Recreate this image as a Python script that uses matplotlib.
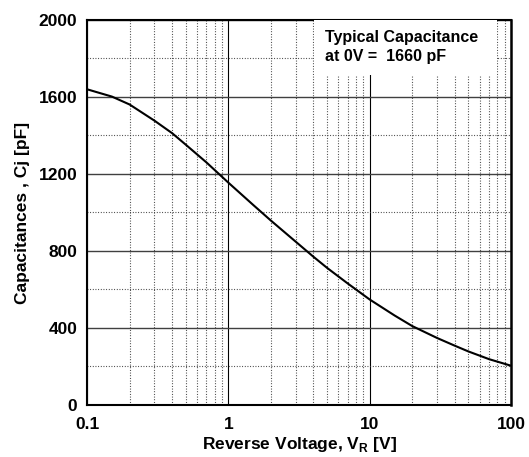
import matplotlib
matplotlib.use("Agg")
import matplotlib.pyplot as plt
from matplotlib.patches import Rectangle
from matplotlib.ticker import FixedLocator, NullFormatter, LogLocator

plt.rcParams['font.family'] = ['Liberation Sans', 'DejaVu Sans']
plt.rcParams['font.weight'] = 'bold'
plt.rcParams['mathtext.fontset'] = 'custom'
plt.rcParams['mathtext.bf'] = 'Liberation Sans:bold'
plt.rcParams['mathtext.rm'] = 'Liberation Sans:bold'

# reverse voltage [V] and junction capacitance [pF]
volts = [0.1, 0.15, 0.2, 0.3, 0.4, 0.5, 0.7, 1.0, 1.5, 2, 3, 4, 5, 7, 10, 15, 20, 30, 40, 50, 70, 100]
cap = [1640, 1602, 1561, 1477, 1412, 1352, 1260, 1155, 1039, 958, 848, 770, 712, 631, 548, 465, 410, 348, 308, 278, 238, 204]

xticks = [0.1, 1, 10, 100]
xticklabels = ['0.1', '1', '10', '100']
yticks = [0, 400, 800, 1200, 1600, 2000]
note = 'Typical Capacitance\nat 0V =  1660 pF'

fig = plt.figure(figsize=(5.29, 4.57), dpi=100)
ax = fig.add_axes([0.1645, 0.1138, 0.8015, 0.8425])

ax.plot(volts, cap, color='black', lw=1.5, zorder=3)

ax.set_xscale('log')
ax.set_xlim(0.1, 100)
ax.set_ylim(0, 2000)

ax.xaxis.set_major_locator(FixedLocator(xticks))
ax.set_xticklabels(xticklabels)
ax.xaxis.set_minor_locator(LogLocator(base=10, subs=range(2, 10)))
ax.xaxis.set_minor_formatter(NullFormatter())
ax.set_yticks(yticks)
ax.set_yticks(range(200, 2000, 400), minor=True)

ax.grid(which='major', axis='y', color='#404040', lw=1.0, ls='-')
ax.grid(which='major', axis='x', color='black', lw=0.8, ls='-')
ax.grid(which='minor', color='#333333', lw=0.8, ls=(0, (0.8, 1.6)))
ax.set_axisbelow(True)

ax.tick_params(which='both', length=0)
ax.tick_params(axis='x', pad=9, labelsize=12.5)
ax.tick_params(axis='y', pad=7, labelsize=12.5)
for lab in ax.get_xticklabels() + ax.get_yticklabels():
    lab.set_fontweight('bold')

for s in ax.spines.values():
    s.set_linewidth(1.5)
ax.spines['right'].set_linewidth(1.8)

ax.set_xlabel(r'Reverse Voltage, V$_\mathbf{R}$ [V]', fontsize=12.5, fontweight='bold', labelpad=2)
ax.set_ylabel('Capacitances , Cj [pF]', fontsize=12.5, fontweight='bold', labelpad=6)

# white patch behind the note hides the grid
ax.add_patch(Rectangle((0.536, 0.857), 0.43, 0.143, transform=ax.transAxes,
                       facecolor='white', edgecolor='none', zorder=2.8))
ax.text(0.561, 0.975, note, transform=ax.transAxes, ha='left', va='top',
        fontsize=11.5, fontweight='bold', linespacing=1.4, zorder=4)

fig.savefig('out.png', dpi=100)
